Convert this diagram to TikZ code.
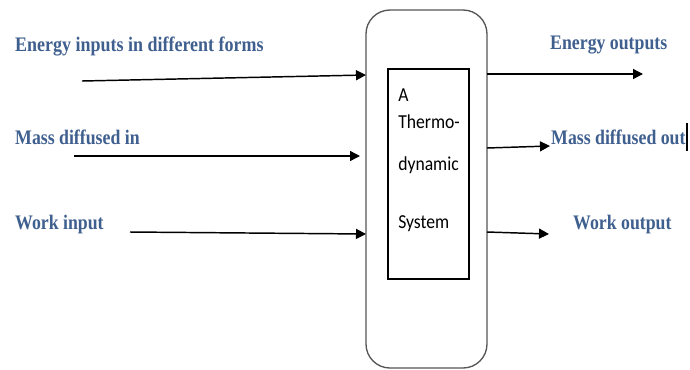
\documentclass[tikz,border=0pt]{standalone}
\usepackage{fontspec}
\setmainfont{Liberation Serif}
\newfontfamily\innerfont{Carlito}
\usetikzlibrary{arrows.meta}
\definecolor{lblue}{HTML}{3F5F8F}
\definecolor{boxgray}{HTML}{555555}
\begin{document}
\begin{tikzpicture}[x=0.75pt,y=-0.75pt,
  lbl/.style={anchor=west,inner sep=0pt,text=lblue,font=\bfseries\fontsize{15.5}{18}\selectfont,xscale=#1,transform shape},
  lbl/.default=0.86,
  inl/.style={anchor=west,inner sep=0pt,font=\innerfont\fontsize{13.5}{16}\selectfont,xscale=0.98,yscale=1.1,transform shape},
  arr/.style={line width=1.1pt,-{Triangle[length=7.5pt,width=7.5pt]}},
  outerbox/.style={draw=boxgray,line width=1pt,rounded corners=18pt,minimum width=90.75pt,minimum height=268.5pt,inner sep=0pt},
  innerbox/.style={draw,line width=0.9pt,minimum width=60.75pt,minimum height=157.5pt,inner sep=0pt}]
\useasboundingbox (0,0) rectangle (690,369);
\node[outerbox] (outer) at (426.5,189) {};
\node[innerbox] (inner) at (428.5,174) {};
\node[inl] (tA) at (398,95) {A};
\node[inl] (tB) at (398,122) {Thermo-};
\node[inl] (tC) at (398,165) {dynamic};
\node[inl] (tD) at (398,224) {System};
% labels
\node[lbl=0.87] (l1) at (15,46) {Energy inputs in different forms};
\node[lbl] (l2) at (15,137) {Mass diffused in};
\node[lbl] (l3) at (15,225) {Work input};
\node[lbl] (r1) at (550,45) {Energy outputs};
\node[lbl] (r2) at (551,137) {Mass diffused out};
\node[lbl] (r3) at (573,225) {Work output};
\coordinate (cur1) at (687,123);
\coordinate (cur2) at (687,151);
\draw[line width=0.9pt] (cur1) -- (cur2);
% coordinates
\coordinate (s1) at (82,81);
\coordinate (e1) at (366,75);
\coordinate (s2) at (74,156);
\coordinate (e2) at (360,156);
\coordinate (s3) at (130,232);
\coordinate (e3) at (366,234);
\coordinate (o1s) at (487,74);
\coordinate (o1e) at (643,74);
\coordinate (o2s) at (487,148);
\coordinate (o2e) at (550,146);
\coordinate (o3s) at (487,232);
\coordinate (o3e) at (549,234);
\draw[arr] (s1) -- (e1);
\draw[arr] (s2) -- (e2);
\draw[arr] (s3) -- (e3);
\draw[arr] (o1s) -- (o1e);
\draw[arr] (o2s) -- (o2e);
\draw[arr] (o3s) -- (o3e);
\end{tikzpicture}
\end{document}
